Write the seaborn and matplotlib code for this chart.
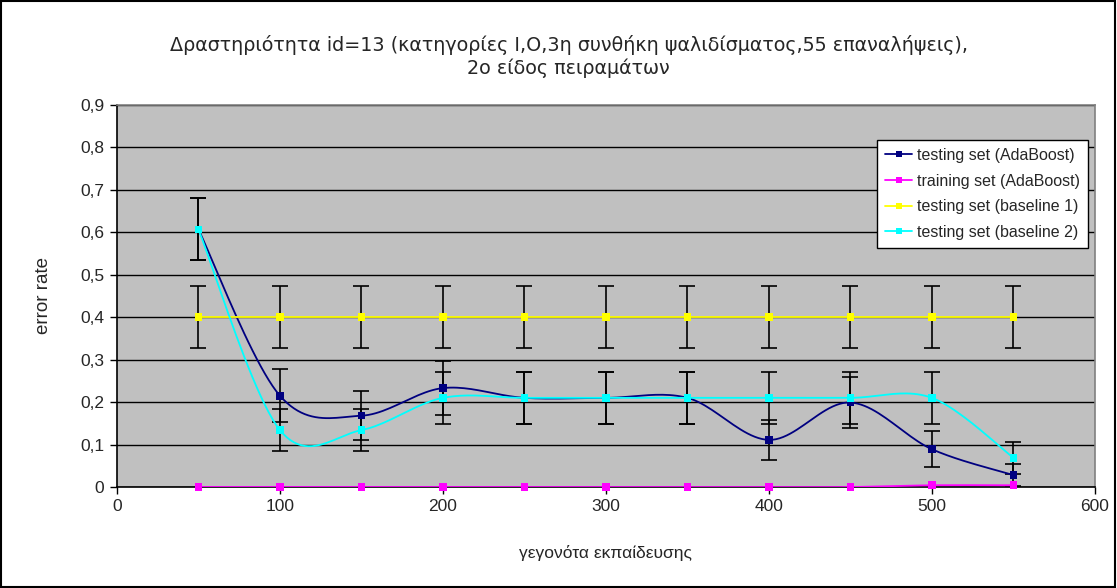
import numpy as np
import pandas as pd
import matplotlib.pyplot as plt
import seaborn as sns
from matplotlib.lines import Line2D
from matplotlib.patches import Rectangle
from matplotlib.ticker import FuncFormatter, MultipleLocator

# data
events = [50, 100, 150, 200, 250, 300, 350, 400, 450, 500, 550]
ada_test = [0.607, 0.215, 0.168, 0.233, 0.210, 0.210, 0.210, 0.111, 0.199, 0.089, 0.028]
ada_test_err = [0.073, 0.062, 0.057, 0.063, 0.061, 0.061, 0.061, 0.047, 0.060, 0.042, 0.025]
ada_train = [0.0, 0.0, 0.0, 0.0, 0.0, 0.0, 0.0, 0.0, 0.0, 0.004, 0.004]
base1 = [0.4, 0.4, 0.4, 0.4, 0.4, 0.4, 0.4, 0.4, 0.4, 0.4, 0.4]
base1_err = [0.073, 0.073, 0.073, 0.073, 0.073, 0.073, 0.073, 0.073, 0.073, 0.073, 0.073]
base2 = [0.607, 0.134, 0.134, 0.210, 0.210, 0.210, 0.210, 0.210, 0.210, 0.210, 0.069]
base2_err = [0.073, 0.050, 0.050, 0.061, 0.061, 0.061, 0.061, 0.061, 0.061, 0.061, 0.038]

labels = ['testing set (AdaBoost)', 'training set (AdaBoost)',
          'testing set (baseline 1)', 'testing set (baseline 2)']
colors = ['#000080', '#FF00FF', '#FFFF00', '#00FFFF']
series = [ada_test, ada_train, base1, base2]
errors = [ada_test_err, None, base1_err, base2_err]

title = ('Δραστηριότητα id=13 (κατηγορίες I,O,3η συνθήκη ψαλιδίσματος,55 επαναλήψεις),\n'
         '2ο είδος πειραμάτων')


def smooth(x, y, n=24):
    # Excel-like smoothed line: cubic Bezier segments through the points
    x = np.asarray(x, float)
    y = np.asarray(y, float)
    P = np.column_stack([x, y])
    ext = np.vstack([P[0], P, P[-1]])
    t = np.linspace(0, 1, n)[:, None]
    out = []
    for i in range(len(P) - 1):
        p0, p1, p2, p3 = ext[i], ext[i + 1], ext[i + 2], ext[i + 3]
        c1 = p1 + (p2 - p0) / 6
        c2 = p2 - (p3 - p1) / 6
        seg = ((1 - t) ** 3) * p1 + 3 * ((1 - t) ** 2) * t * c1 + 3 * (1 - t) * t ** 2 * c2 + t ** 3 * p2
        out.append(seg if i == 0 else seg[1:])
    out = np.vstack(out)
    return out[:, 0], out[:, 1]


sns.set_theme(style='white')
plt.rcParams['font.family'] = ['Liberation Sans', 'DejaVu Sans']

fig = plt.figure(figsize=(11.17, 5.88), dpi=100)
ax = fig.add_axes([0.1047, 0.1718, 0.8755, 0.6496])
ax.set_facecolor('#C0C0C0')

# smoothed curves
rows = []
for lab, vals in zip(labels, series):
    sx, sy = smooth(events, vals)
    rows.append(pd.DataFrame({'x': sx, 'y': sy, 'series': lab}))
curves = pd.concat(rows, ignore_index=True)
pal = dict(zip(labels, colors))

# error bars
for vals, err in zip(series, errors):
    if err is not None:
        ax.errorbar(events, vals, yerr=err, fmt='none', ecolor='black',
                    elinewidth=1.2, capsize=6, capthick=1.2, zorder=2)

sns.lineplot(data=curves, x='x', y='y', hue='series', palette=pal, sort=False,
             estimator=None, units='series', legend=False, linewidth=1.3, ax=ax, zorder=3)

pts = pd.DataFrame({'x': events * 4,
                    'y': ada_test + ada_train + base1 + base2,
                    'series': sum([[l] * len(events) for l in labels], [])})
sns.scatterplot(data=pts, x='x', y='y', hue='series', palette=pal, marker='s', s=30,
                edgecolor='none', legend=False, ax=ax, zorder=4, clip_on=False)

ax.set_xlim(0, 600)
ax.set_ylim(0, 0.9)
ax.xaxis.set_major_locator(MultipleLocator(100))
ax.yaxis.set_major_locator(MultipleLocator(0.1))
ax.yaxis.set_major_formatter(FuncFormatter(lambda v, p: '0' if abs(v) < 1e-9 else f'{v:.1f}'.replace('.', ',')))
ax.grid(axis='y', color='black', linewidth=1.0)
ax.set_axisbelow(True)
ax.tick_params(direction='out', length=5, width=1, color='black', labelsize=12.5, pad=4,
               left=True, bottom=True)
for s in ['left', 'bottom']:
    ax.spines[s].set_color('black')
    ax.spines[s].set_linewidth(1.2)
for s in ['top', 'right']:
    ax.spines[s].set_color('#808080')
    ax.spines[s].set_linewidth(1.2)
ax.set_xlabel('')
ax.set_ylabel('')

fig.text(0.5416, 0.0595, 'γεγονότα εκπαίδευσης', ha='center', va='center', fontsize=12.5)
fig.text(0.0385, 0.498, 'error rate', ha='center', va='center', rotation=90, fontsize=13.5)
fig.text(0.509, 0.904, title, ha='center', va='center', fontsize=13.8,
         family=['DejaVu Sans'], linespacing=1.18)

handles = [Line2D([0], [0], color=c, marker='s', markersize=5, markeredgewidth=0, linewidth=1.3)
           for c in colors]
leg = ax.legend(handles, labels, loc='upper right', bbox_to_anchor=(0.974, 0.762),
                bbox_transform=fig.transFigure, borderaxespad=0, fontsize=11.5,
                frameon=True, fancybox=False, handlelength=1.7, handletextpad=0.3,
                labelspacing=0.67, borderpad=0.5)
leg.get_frame().set_edgecolor('black')
leg.get_frame().set_facecolor('white')
leg.get_frame().set_alpha(1)
leg.get_frame().set_linewidth(1.0)

fig.patches.append(Rectangle((0.001, 0.002), 0.997, 0.996, transform=fig.transFigure,
                             fill=False, edgecolor='black', linewidth=1.5))

fig.savefig('out.png', dpi=100)
